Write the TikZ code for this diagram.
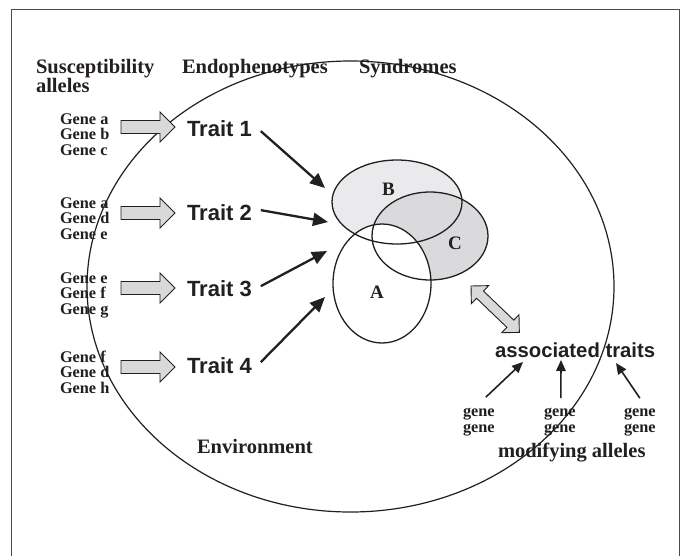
\documentclass[tikz,border=0pt]{standalone}
\usepackage{fontspec}
\setmainfont{Liberation Serif}
\newfontfamily\helv{Liberation Sans}
\usetikzlibrary{arrows.meta,shapes.geometric}
\definecolor{boxgray}{HTML}{D9D9DB}
\definecolor{bfill}{HTML}{EAEAEC}
\definecolor{cfill}{HTML}{DADADC}
\definecolor{ink}{HTML}{231F20}
\begin{document}
\begin{tikzpicture}[x=1pt,y=-1pt,
  every node/.style={inner sep=0pt,outer sep=0pt,text=ink},
  hdr/.style={font=\bfseries\fontsize{20.5}{22}\selectfont,anchor=base west},
  genetxt/.style={font=\bfseries\fontsize{16.3}{18}\selectfont,anchor=base west},
  traittxt/.style={font=\helv\bfseries\fontsize{22}{24}\selectfont,anchor=base west},
  assoctxt/.style={font=\helv\bfseries\fontsize{20.3}{22}\selectfont,anchor=base west},
  vennlbl/.style={font=\bfseries\fontsize{19}{21}\selectfont},
  vennshape/.style={ellipse,draw=ink,line width=1.3pt},
  envshape/.style={ellipse,draw=ink,line width=1.2pt},
  blackarr/.style={draw=ink,line width=2.3pt,-{Triangle[length=15pt,width=13pt]}},
  smallarr/.style={draw=ink,line width=1.6pt,-{Triangle[length=11pt,width=9.5pt]}},
  blockarrow/.pic={\draw[draw=ink,line width=0.9pt,fill=boxgray]
     (0,-6.5) -- (39,-6.5) -- (39,-15) -- (54,0) -- (39,15) -- (39,6.5) -- (0,6.5) -- cycle;}
]
\useasboundingbox[fill=white] (0,0) rectangle (681,555);
% frame (open at bottom)
\draw[black!70,line width=1pt] (11,556) -- (11,9.5) -- (679.5,9.5) -- (679.5,556);

% environment ellipse
\node[envshape,minimum width=527pt,minimum height=451pt] (env) at (350.5,286.5) {};

% headers
\node[hdr] (hsus) at (36,73) {Susceptibility};
\node[hdr] (hall) at (36,92.5) {alleles};
\node[hdr] (hendo) at (182,73) {Endophenotypes};
\node[hdr] (hsyn) at (359,73) {Syndromes};
\node[hdr] (henv) at (197,453) {Environment};
\node[hdr] (hmod) at (498,457) {modifying alleles};

% gene blocks, block arrows, traits
\foreach \i/\y/\la/\lb/\lc/\yc/\yt in {1/124/a/b/c/127/136, 2/208/a/d/e/213/220, 3/283/e/f/g/288/296, 4/362/f/d/h/367/373} {
  \node[genetxt] (ga\i) at (60,\y) {Gene \la};
  \node[genetxt] (gb\i) at (60,\y+15.7) {Gene \lb};
  \node[genetxt] (gc\i) at (60,\y+31.4) {Gene \lc};
  \pic at (121,\yc) {blockarrow};
  \node[traittxt] (t\i) at (187,\yt) {Trait \i};
}

% Venn diagram
\fill[bfill] (397,202) ellipse [x radius=65pt,y radius=42pt];
\fill[cfill] (430,236) ellipse [x radius=58pt,y radius=44pt];
\fill[white] (382,283.5) ellipse [x radius=49pt,y radius=59.5pt];
\node[vennshape,minimum width=130pt,minimum height=84pt] (vB) at (397,202) {};
\node[vennshape,minimum width=116pt,minimum height=88pt] (vC) at (430,236) {};
\node[vennshape,minimum width=98pt,minimum height=119pt] (vA) at (382,283.5) {};
\node[vennlbl] (lB) at (388.5,189) {B};
\node[vennlbl] (lC) at (455,243) {C};
\node[vennlbl] (lA) at (377,292.5) {A};

% trait arrows
\coordinate (tip1) at (325,188);
\coordinate (tip2) at (328,222);
\coordinate (tip3) at (327,251);
\coordinate (tip4) at (325,297);
\draw[blackarr] ([xshift=9pt,yshift=-3pt]t1.east) -- (tip1);
\draw[blackarr] ([xshift=9pt,yshift=2pt]t2.east) -- (tip2);
\draw[blackarr] ([xshift=9pt,yshift=2pt]t3.east) -- (tip3);
\draw[blackarr] ([xshift=9pt,yshift=3pt]t4.east) -- (tip4);

% double block arrow
\begin{scope}[shift={(471,286)},rotate=-43.8]
  \draw[draw=ink,line width=0.9pt,fill=boxgray]
    (0,0) -- (12.5,-12.5) -- (12.5,-5) -- (54.5,-5) -- (54.5,-12.5) -- (67,0)
    -- (54.5,12.5) -- (54.5,5) -- (12.5,5) -- (12.5,12.5) -- cycle;
\end{scope}

% associated traits
\node[assoctxt] (assoc) at (495,357) {associated traits};
\node[genetxt] (gl1) at (463,416.5) {gene};
\node[genetxt] (gl2) at (463,432.5) {gene};
\node[genetxt] (gm1) at (544,416.5) {gene};
\node[genetxt] (gm2) at (544,432.5) {gene};
\node[genetxt] (gr1) at (624,416.5) {gene};
\node[genetxt] (gr2) at (624,432.5) {gene};
\coordinate (m1) at (523,362);
\coordinate (m2) at (561,360);
\coordinate (m3) at (616,363);
\draw[smallarr] ([xshift=7pt,yshift=11pt]gl1.north) -- (m1);
\draw[smallarr] ([xshift=1pt,yshift=10pt]gm1.north) -- (m2);
\draw[smallarr] ([xshift=0pt,yshift=10pt]gr1.north) -- (m3);
\end{tikzpicture}
\end{document}
